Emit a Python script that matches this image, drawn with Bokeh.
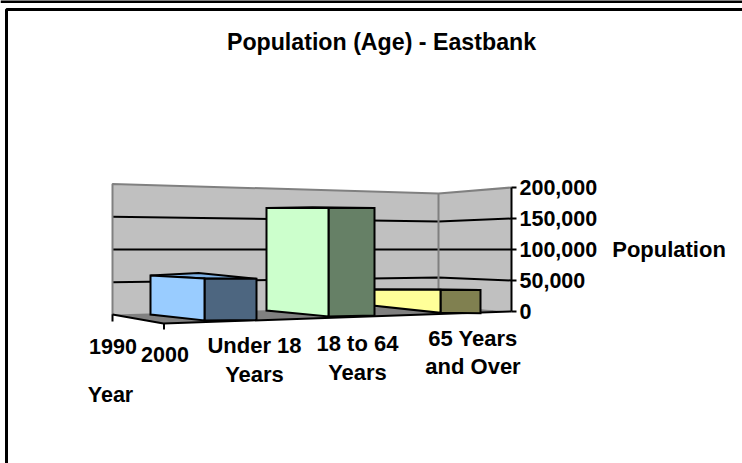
import numpy as np
from bokeh.embed import file_html
from bokeh.resources import INLINE
from bokeh.plotting import figure
from bokeh.core.properties import value
from bokeh.models import LinearAxis, FixedTicker, NumeralTickFormatter, Range1d, ColumnDataSource

# ---- data ----
title = "Population (Age) - Eastbank"
categories = ["Under 18\nYears", "18 to 64\nYears", "65 Years\nand Over"]
years = ["1990", "2000"]
values_2000 = [60000, 155000, 33000]
value_ticks = [0, 50000, 100000, 150000, 200000]
value_label = "Population"
year_label = "Year"

# ---- pseudo-3D layout (Bokeh has no 3D scene), in page pixels ----
W, H = 742, 463
PX_ZERO, PX_PER_VALUE = 311, 124 / 200000
FONT = "Liberation Sans"

def to_val(ypx):
    return (PX_ZERO - np.asarray(ypx, dtype=float)) / PX_PER_VALUE

WALL_X = [112, 438, 511]
WALL_HALF = [65.5, 56, 62]

def wall_val(x, v):
    """Value-axis coordinate of value v on the back walls at page column x."""
    return 100000 + (v - 100000) * np.interp(x, WALL_X, WALL_HALF) / 62

# x left/mid/right/back, base y at those, height factor at those
BARS = [
    dict(i=0, x=[150, 204, 256, 198], base=[314, 320, 319.5, 311], f=[.93, 1.0, .98, .915],
         front="#99CCFF", side="#4D6680", top="#7FB2E6"),
    dict(i=2, x=[372, 440, 480, 430], base=[305, 312.3, 312.7, 307], f=[.69, 1.0, 1.0, .78],
         front="#FFFF99", side="#808050", top="#E6E680"),
    dict(i=1, x=[266, 328, 374, 312], base=[310, 316, 315, 312], f=[.945, 1.0, .99, .97],
         front="#CCFFCC", side="#668066", top="#B8E6B8"),
]
K = 0.0007

p = figure(width=W, height=H, output_backend="svg", toolbar_location=None,
           x_axis_type=None, y_axis_type=None, min_border=0, outline_line_color=None,
           x_range=Range1d(0, W), y_range=Range1d(float(to_val(H)), float(to_val(0))))

# page frame
p.line([0, W], to_val([1, 1]), line_color="black", line_width=3)
p.line([6, 6, W], to_val([H, 9, 9]), line_color="black", line_width=3)

# walls
wx, wy = [], []
for a, b in [(112, 438), (438, 511)]:
    wx.append([a, b, b, a])
    wy.append([wall_val(a, 200000), wall_val(b, 200000), wall_val(b, 0), wall_val(a, 0)])
p.patches(wx, wy, fill_color="#C0C0C0", line_color=None)

# grid lines
gx, gy = [], []
for t in value_ticks[1:-1]:
    gx.append(WALL_X)
    gy.append([wall_val(x, t) for x in WALL_X])
p.multi_line(gx, gy, line_color="black", line_width=2)

# wall borders
p.line([112, 112, 438, 511], [wall_val(112, 0), wall_val(112, 200000), wall_val(438, 200000), wall_val(511, 200000)],
       line_color="#808080", line_width=2)
p.line([438, 438], [wall_val(438, 0), wall_val(438, 200000)], line_color="#808080", line_width=2)

# floor
p.patch([112, 163, 511, 438], to_val([314, 323, 311, 305]), fill_color="#808080", line_color=None)
p.line([112, 163, 511], to_val([314, 323, 311]), line_color="black", line_width=2)

# year-axis ticks
for x, (y0, y1) in zip([112, 163.5], [(314, 321), (323, 329)]):
    p.line([x, x], to_val([y0, y1]), line_color="black", line_width=2)

# bars
for b in BARS:
    h = values_2000[b["i"]] * K
    xl, xm, xr, xb = b["x"]
    base = b["base"]
    topy = [base[j] - h * b["f"][j] for j in range(4)]
    src = ColumnDataSource(dict(
        xs=[[xl, xb, xr, xm], [xm, xr, xr, xm], [xl, xm, xm, xl]],
        ys=[to_val([topy[0], topy[3], topy[2], topy[1]]).tolist(),
            to_val([topy[1], topy[2], base[2], base[1]]).tolist(),
            to_val([topy[0], topy[1], base[1], base[0]]).tolist()],
        c=[b["top"], b["side"], b["front"]]))
    p.patches("xs", "ys", source=src, fill_color="c", line_color="black", line_width=2, line_join="miter")

# value axis (a real axis with the chart's own scale)
ax = LinearAxis(fixed_location=511, ticker=FixedTicker(ticks=value_ticks),
                formatter=NumeralTickFormatter(format="0,0"), bounds=(0, 200000),
                axis_label=value_label, axis_label_orientation="horizontal",
                axis_line_color="black", axis_line_width=2,
                major_tick_line_color="black", major_tick_line_width=2,
                major_tick_in=0, major_tick_out=5, minor_tick_line_color=None,
                major_label_standoff=3, axis_label_standoff=12,
                major_label_text_font=FONT, major_label_text_font_style="bold",
                major_label_text_font_size="21.5px", major_label_text_color="black",
                axis_label_text_font=FONT, axis_label_text_font_style="bold",
                axis_label_text_font_size="22px", axis_label_text_color="black")
p.add_layout(ax, "right")

def txt(x, ypx, s, size, align="center"):
    p.text([x], to_val([ypx]), text=[s], text_align=align, text_baseline="middle",
           text_font=value(FONT), text_font_style="bold", text_font_size=size,
           text_color="black", text_line_height=1.125)

txt(381, 41, title, "23.2px")
for x, y, s in zip([112.5, 164.5], [346, 354], years):
    txt(x, y, s, "21.5px")
for x, y, s in zip([254, 357, 472.5], [359.5, 357.5, 352], categories):
    txt(x, y, s, "22px")
txt(110, 394, year_label, "21.5px")

open("out.html", "w").write(file_html(p, INLINE))
